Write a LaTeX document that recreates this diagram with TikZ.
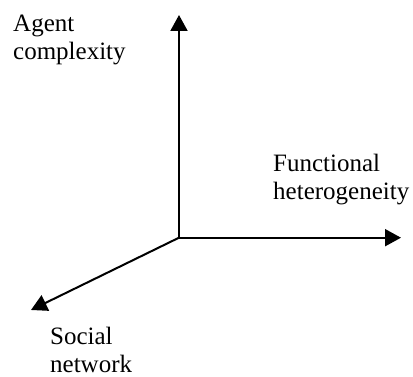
\documentclass[tikz,border=0pt]{standalone}
\usepackage{fontspec}
\setmainfont{Liberation Serif}
\usetikzlibrary{arrows.meta}
\begin{document}
\begin{tikzpicture}[x=1pt,y=1pt,
    axis/.style={line width=2pt,-{Triangle[length=16pt,width=17pt]}},
    axislabel/.style={anchor=base west,inner sep=0pt,align=left,
      font=\fontsize{25}{28.3}\selectfont}]
      \useasboundingbox (0,0) rectangle (413,377);

      \coordinate (o) at (179,139.3);
      \coordinate (up) at (179,362);
      \coordinate (right) at (401,139.3);
      \coordinate (down) at (31,67);

      \draw[axis] (o) -- (up);
      \draw[axis] (o) -- (right);
      \draw[axis] (o) -- (down);

      \node[axislabel] (agent) at (13,317) {Agent\\complexity};
      \node[axislabel] (func) at (273,177) {Functional\\heterogeneity};
      \node[axislabel] (social) at (50,4) {Social\\network};
    \end{tikzpicture}
\end{document}
